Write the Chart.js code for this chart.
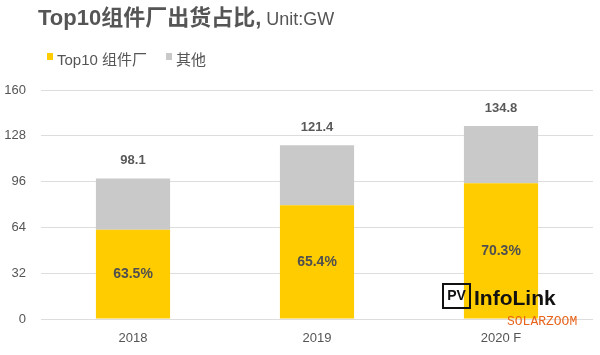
<!DOCTYPE html>
<html>
<head>
<meta charset="utf-8">
<script src="https://cdn.jsdelivr.net/npm/chart.js@4/dist/chart.umd.min.js"></script>
<style>
html,body{margin:0;padding:0;background:#fff;}
#wrap{width:600px;height:355px;position:relative;}
</style>
</head>
<body>
<div id="wrap"><canvas id="c" width="600" height="355"></canvas></div>
<script>
const categories = ['2018', '2019', '2020 F'];
const top10Values = [62.3, 79.4, 94.8];
const otherValues = [35.8, 42.0, 40.0];
const totalLabels = ['98.1', '121.4', '134.8'];
const shareLabels = ['63.5%', '65.4%', '70.3%'];
const yTicks = [0, 32, 64, 96, 128, 160];
const seriesNames = ['Top10 组件厂', '其他'];
const titleMain = 'Top10组件厂出货占比,';
const titleUnit = ' Unit:GW';

const FONT = '"Liberation Sans", "Noto Sans CJK SC", sans-serif';
const YELLOW = '#FFCC00';
const GRAY = '#C9C9C9';
const TEXT = '#595959';

const overlay = {
  id: 'overlay',
  afterDatasetsDraw(chart) {
    const ctx = chart.ctx;
    ctx.save();
    // title
    ctx.textBaseline = 'alphabetic';
    ctx.textAlign = 'left';
    ctx.fillStyle = '#555555';
    ctx.font = 'bold 22px ' + FONT;
    ctx.fillText(titleMain, 38, 25);
    const w = ctx.measureText(titleMain).width;
    ctx.font = '18px ' + FONT;
    ctx.fillText(titleUnit, 38 + w, 25);

    // legend
    const colors = [YELLOW, GRAY];
    let lx = 47;
    ctx.font = '15px ' + FONT;
    ctx.textBaseline = 'middle';
    seriesNames.forEach((n, i) => {
      ctx.fillStyle = colors[i];
      ctx.fillRect(lx, 53, 6, 7);
      ctx.fillStyle = '#555555';
      ctx.fillText(n, lx + 10, 61);
      lx += 10 + ctx.measureText(n).width + 19;
    });

    // labels
    const m0 = chart.getDatasetMeta(0);
    const m1 = chart.getDatasetMeta(1);
    ctx.textAlign = 'center';
    ctx.textBaseline = 'middle';
    m1.data.forEach((bar, i) => {
      ctx.fillStyle = TEXT;
      ctx.font = 'bold 13px ' + FONT;
      ctx.fillText(totalLabels[i], bar.x, bar.y - 18);
    });
    m0.data.forEach((bar, i) => {
      ctx.fillStyle = '#4f4f4f';
      ctx.font = 'bold 14px ' + FONT;
      ctx.fillText(shareLabels[i], bar.x, (bar.y + bar.base) / 2);
    });

    // watermark: PV InfoLink
    ctx.strokeStyle = '#111';
    ctx.lineWidth = 2;
    ctx.strokeRect(443, 284, 27, 24);
    ctx.fillStyle = '#111';
    ctx.font = 'bold 14px "Liberation Sans", sans-serif';
    ctx.textAlign = 'center';
    ctx.fillText('PV', 456.5, 296.5);
    ctx.textAlign = 'left';
    ctx.textBaseline = 'alphabetic';
    ctx.font = 'bold 21px "Liberation Sans", sans-serif';
    ctx.fillText('InfoLink', 474, 305);
    // SOLARZOOM
    ctx.fillStyle = '#E8641B';
    ctx.font = '13px "Liberation Mono", "DejaVu Sans Mono", monospace';
    ctx.textBaseline = 'middle';
    ctx.fillText('SOLARZOOM', 507, 322);
    ctx.restore();
  }
};

new Chart(document.getElementById('c'), {
  type: 'bar',
  data: {
    labels: categories,
    datasets: [
      { label: seriesNames[0], data: top10Values, backgroundColor: YELLOW, borderWidth: 0 },
      { label: seriesNames[1], data: otherValues, backgroundColor: GRAY, borderWidth: 0 }
    ]
  },
  options: {
    responsive: false,
    animation: false,
    devicePixelRatio: 1,
    layout: { padding: { top: 90, right: 7, left: 0, bottom: 0 } },
    plugins: { legend: { display: false }, title: { display: false }, tooltip: { enabled: false } },
    datasets: { bar: { categoryPercentage: 1, barPercentage: 0.403 } },
    scales: {
      x: {
        stacked: true,
        grid: { display: false },
        border: { display: false },
        ticks: { color: '#555', font: { family: FONT, size: 13 }, padding: 4 },
        afterFit(s) { s.height = 36; }
      },
      y: {
        stacked: true,
        min: 0, max: 160,
        afterBuildTicks(s) { s.ticks = yTicks.map(v => ({ value: v })); },
        grid: { color: '#DDDDDD', lineWidth: 1, drawTicks: false },
        border: { display: false },
        ticks: { color: '#555', font: { family: FONT, size: 13 }, padding: 15 },
        afterFit(s) { s.width = 41; }
      }
    }
  },
  plugins: [overlay]
});
</script>
</body>
</html>
